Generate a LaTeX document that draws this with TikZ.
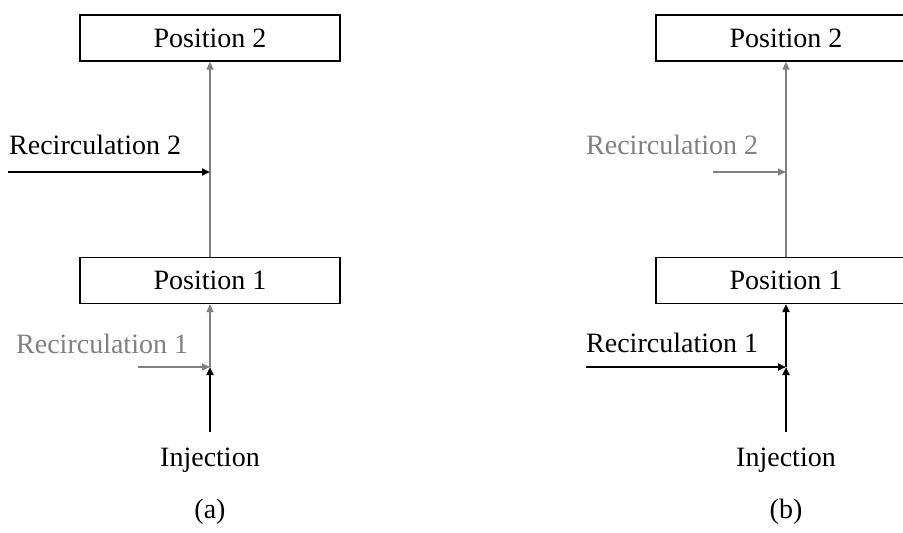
\documentclass[tikz,border=0pt]{standalone}
\usepackage{fontspec}
\setmainfont{Liberation Serif}
\usetikzlibrary{arrows.meta}
\definecolor{fadegray}{RGB}{128,128,128}
\begin{document}
\begin{tikzpicture}[x=1pt,y=-1pt,
  txt/.style={font=\fontsize{28}{34}\selectfont, inner sep=0pt},
  posbox/.style={draw, line width=1.3pt, minimum width=260pt, minimum height=46pt, inner sep=0pt, font=\fontsize{28}{34}\selectfont},
  blk/.style={line width=2pt, -{Triangle[length=8pt,width=7pt]}},
  gry/.style={line width=1.5pt, draw=fadegray, -{Triangle[length=8pt,width=7pt,fill=fadegray]}}]
\clip (0,0) rectangle (903,533);
% ---------- (a) ----------
\node[posbox] (p2a) at (210,38) {Position 2};
\node[posbox] (p1a) at (210,280.5) {Position 1};
\node[txt, anchor=base west] (t2a) at (9,154) {Recirculation 2};
\node[txt, anchor=base west, text=fadegray] (t1a) at (16,353) {Recirculation 1};
\node[txt, anchor=base] (inja) at (210,466) {Injection};
\node[txt, anchor=base] (capa) at (210,518) {(a)};
\coordinate (r2a) at (8,172);
\coordinate (j2a) at (210,172);
\coordinate (r1a) at (138,367);
\coordinate (j1a) at (210,367);
\coordinate (ia) at (210,432);
\draw[gry] (p1a.north) -- (p2a.south);
\draw[blk] (r2a) -- (j2a);
\draw[gry] (j1a) -- (p1a.south);
\draw[gry] (r1a) -- (j1a);
\draw[blk] (ia) -- (j1a);
% ---------- (b) ----------
\node[posbox] (p2b) at (786,38) {Position 2};
\node[posbox] (p1b) at (786,280.5) {Position 1};
\node[txt, anchor=base west, text=fadegray] (t2b) at (586,154) {Recirculation 2};
\node[txt, anchor=base west] (t1b) at (586,352) {Recirculation 1};
\node[txt, anchor=base] (injb) at (786,466) {Injection};
\node[txt, anchor=base] (capb) at (786,518) {(b)};
\coordinate (r2b) at (713,172);
\coordinate (j2b) at (786,172);
\coordinate (r1b) at (586,367);
\coordinate (j1b) at (786,367);
\coordinate (ib) at (786,432);
\draw[gry] (p1b.north) -- (p2b.south);
\draw[gry] (r2b) -- (j2b);
\draw[blk] (j1b) -- (p1b.south);
\draw[blk] (r1b) -- (j1b);
\draw[blk] (ib) -- (j1b);
\end{tikzpicture}
\end{document}
